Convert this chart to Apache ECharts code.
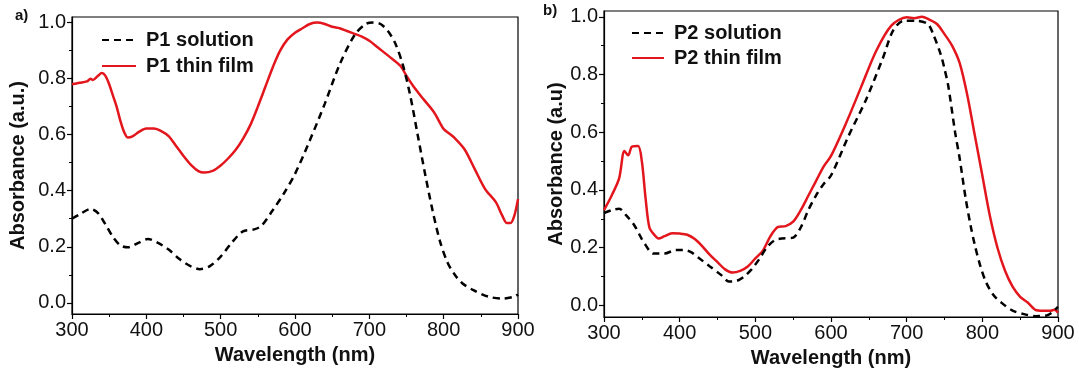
<!DOCTYPE html>
<html><head><meta charset="utf-8">
<script src="https://cdn.jsdelivr.net/npm/echarts@6/dist/echarts.min.js"></script>
<style>html,body{margin:0;padding:0;background:#fff}#c{width:1079px;height:373px}</style>
</head><body><div id="c"></div>
<script>
// ---- data ----
const p1SolWl  = [300,310,325,335,345,355,365,375,390,402,415,430,445,460,472,485,500,515,530,545,555,570,585,600,620,640,660,680,695,705,715,725,735,745,755,765,775,785,795,805,815,825,840,860,880,895,900];
const p1SolAbs = [0.30,0.315,0.335,0.32,0.28,0.235,0.205,0.198,0.215,0.228,0.215,0.19,0.155,0.13,0.12,0.13,0.165,0.215,0.255,0.262,0.275,0.33,0.39,0.46,0.58,0.71,0.85,0.955,0.995,1.0,0.995,0.97,0.925,0.85,0.74,0.6,0.46,0.33,0.22,0.145,0.1,0.07,0.045,0.022,0.015,0.022,0.03];

const p1FilmWl  = [300,310,320,325,328,335,340,345,350,355,360,365,370,375,382,390,400,410,420,430,440,450,460,470,478,490,500,510,520,530,540,550,560,570,580,590,600,610,620,630,640,650,660,670,680,690,700,712,731,742,750,759,773,787,800,807,814,828,842,856,870,879,885,890,895,900];
const p1FilmAbs = [0.78,0.785,0.79,0.80,0.795,0.81,0.82,0.81,0.78,0.74,0.70,0.65,0.61,0.59,0.595,0.61,0.622,0.622,0.613,0.595,0.56,0.524,0.492,0.47,0.465,0.472,0.49,0.515,0.545,0.585,0.635,0.70,0.77,0.84,0.90,0.94,0.964,0.98,0.995,1.0,0.995,0.985,0.98,0.97,0.96,0.95,0.935,0.91,0.87,0.845,0.81,0.774,0.726,0.68,0.62,0.605,0.59,0.548,0.476,0.405,0.36,0.31,0.285,0.285,0.31,0.37];

const p2SolWl  = [300,310,320,330,340,350,355,360,365,380,395,405,415,425,440,455,465,475,485,495,505,515,525,535,550,560,570,580,590,600,623,646,669,682,696,714,728,735,745,750,755,764,770,778,785,790,797,805,815,825,840,855,870,885,892,898,900];
const p2SolAbs = [0.32,0.33,0.335,0.31,0.278,0.23,0.209,0.19,0.18,0.18,0.192,0.192,0.185,0.165,0.135,0.105,0.083,0.085,0.10,0.125,0.16,0.20,0.225,0.232,0.235,0.27,0.33,0.38,0.42,0.45,0.586,0.711,0.86,0.952,0.986,0.986,0.975,0.94,0.87,0.82,0.76,0.60,0.51,0.37,0.27,0.21,0.14,0.08,0.035,0.01,-0.018,-0.03,-0.037,-0.035,-0.025,-0.01,-0.005];

const p2FilmWl  = [300,310,320,327,332,337,345,350,355,360,367,372,380,390,400,410,420,430,440,450,460,470,480,490,500,510,520,530,540,550,560,570,580,590,600,620,640,660,680,700,710,720,730,740,750,760,770,780,790,800,810,820,830,840,850,860,870,880,890,895,900];
const p2FilmAbs = [0.33,0.38,0.44,0.535,0.52,0.55,0.552,0.50,0.37,0.27,0.243,0.232,0.24,0.25,0.249,0.245,0.23,0.205,0.175,0.15,0.125,0.114,0.12,0.135,0.163,0.19,0.24,0.272,0.275,0.29,0.33,0.38,0.43,0.48,0.518,0.632,0.758,0.883,0.97,0.998,0.995,1.0,0.99,0.975,0.94,0.90,0.84,0.73,0.59,0.45,0.31,0.20,0.12,0.065,0.03,0.01,-0.015,-0.018,-0.018,-0.015,-0.025];

const xTicks = [300,400,500,600,700,800,900];
const yTicks = [0.0,0.2,0.4,0.6,0.8,1.0];
const yMinorTicks = [0.1,0.3,0.5,0.7,0.9];

const zip = (a,b)=>a.map((v,i)=>[v,b[i]]);
const RED = '#e2161c';
const FONT = 'Liberation Sans, Arial, sans-serif';

function xAxis(gi){
  return {type:'value', gridIndex:gi, min:300, max:900, interval:100,
    name:'Wavelength (nm)', nameLocation:'middle', nameGap:31,
    nameTextStyle:{fontFamily:FONT,fontWeight:'bold',fontSize:20,color:'#111'},
    axisLine:{show:true,onZero:false,lineStyle:{color:'#000',width:1.2}},
    axisTick:{show:true,inside:false,length:5,lineStyle:{color:'#000',width:1.2}},
    minorTick:{show:true,splitNumber:2,length:3,lineStyle:{color:'#000',width:1}},
    splitLine:{show:false},
    axisLabel:{fontFamily:FONT,fontSize:20,color:'#111',margin:6,customValues:xTicks}
  };
}
function yAxes(gi,name,gap){
  return [{type:'value', gridIndex:gi, min:-0.04, max:1.02,
    name:name, nameLocation:'middle', nameGap:gap, nameRotate:90,
    nameTextStyle:{fontFamily:FONT,fontWeight:'bold',fontSize:20,color:'#111'},
    axisLine:{show:true,onZero:false,lineStyle:{color:'#000',width:1.2}},
    axisTick:{show:true,length:5,customValues:yTicks,lineStyle:{color:'#000',width:1.2}},
    splitLine:{show:false},
    axisLabel:{fontFamily:FONT,fontSize:20,color:'#111',margin:6,customValues:yTicks,formatter:v=>v.toFixed(1)}
  },{type:'value', gridIndex:gi, min:-0.04, max:1.02, position:'left',
    axisLine:{show:false}, splitLine:{show:false}, axisLabel:{show:false},
    axisTick:{show:true,length:3,customValues:yMinorTicks,lineStyle:{color:'#000',width:1}}
  }];
}

const legendText = {fontFamily:FONT,fontWeight:'bold',fontSize:20,color:'#111',lineHeight:20,padding:[0,0,0,5]};
const chart = echarts.init(document.getElementById('c'), null, {renderer:'canvas'});
chart.setOption({
  animation:false,
  backgroundColor:'#fff',
  grid:[
    {left:72, right:561, top:17, bottom:59, show:true, borderColor:'#000', borderWidth:1.2},
    {left:604, right:21, top:11, bottom:52, show:true, borderColor:'#000', borderWidth:1.2}
  ],
  xAxis:[xAxis(0), xAxis(1)],
  yAxis:[...yAxes(0,'Absorbance (a.u.)',44), ...yAxes(1,'Absorbance (a.u)',38)],
  legend:[
    {orient:'vertical', left:96, top:25, itemWidth:34, itemHeight:10, itemGap:6,
     itemStyle:{opacity:0}, data:['P1 solution','P1 thin film'], textStyle:legendText},
    {orient:'vertical', left:626, top:18, itemWidth:32, itemHeight:10, itemGap:5,
     itemStyle:{opacity:0}, data:['P2 solution','P2 thin film'], textStyle:legendText}
  ],
  graphic:[
    {type:'text', left:15, top:8, style:{text:'a)', font:'bold 15px '+FONT, fill:'#111'}},
    {type:'text', left:543, top:3, style:{text:'b)', font:'bold 15px '+FONT, fill:'#111'}}
  ],
  series:[
    {name:'P1 thin film', type:'line', xAxisIndex:0, yAxisIndex:0, data:zip(p1FilmWl,p1FilmAbs), symbol:'none', smooth:0.3,
     lineStyle:{color:RED,width:2.5}, itemStyle:{color:RED}},
    {name:'P1 solution', type:'line', xAxisIndex:0, yAxisIndex:0, data:zip(p1SolWl,p1SolAbs), symbol:'none', smooth:0.3,
     lineStyle:{color:'#000',width:2.5,type:[7,5]}, itemStyle:{color:'#000'}},
    {name:'P2 thin film', type:'line', xAxisIndex:1, yAxisIndex:2, data:zip(p2FilmWl,p2FilmAbs), symbol:'none', smooth:0.3,
     lineStyle:{color:RED,width:2.5}, itemStyle:{color:RED}},
    {name:'P2 solution', type:'line', xAxisIndex:1, yAxisIndex:2, data:zip(p2SolWl,p2SolAbs), symbol:'none', smooth:0.3,
     lineStyle:{color:'#000',width:2.5,type:[7,5]}, itemStyle:{color:'#000'}}
  ]
});
</script></body></html>
